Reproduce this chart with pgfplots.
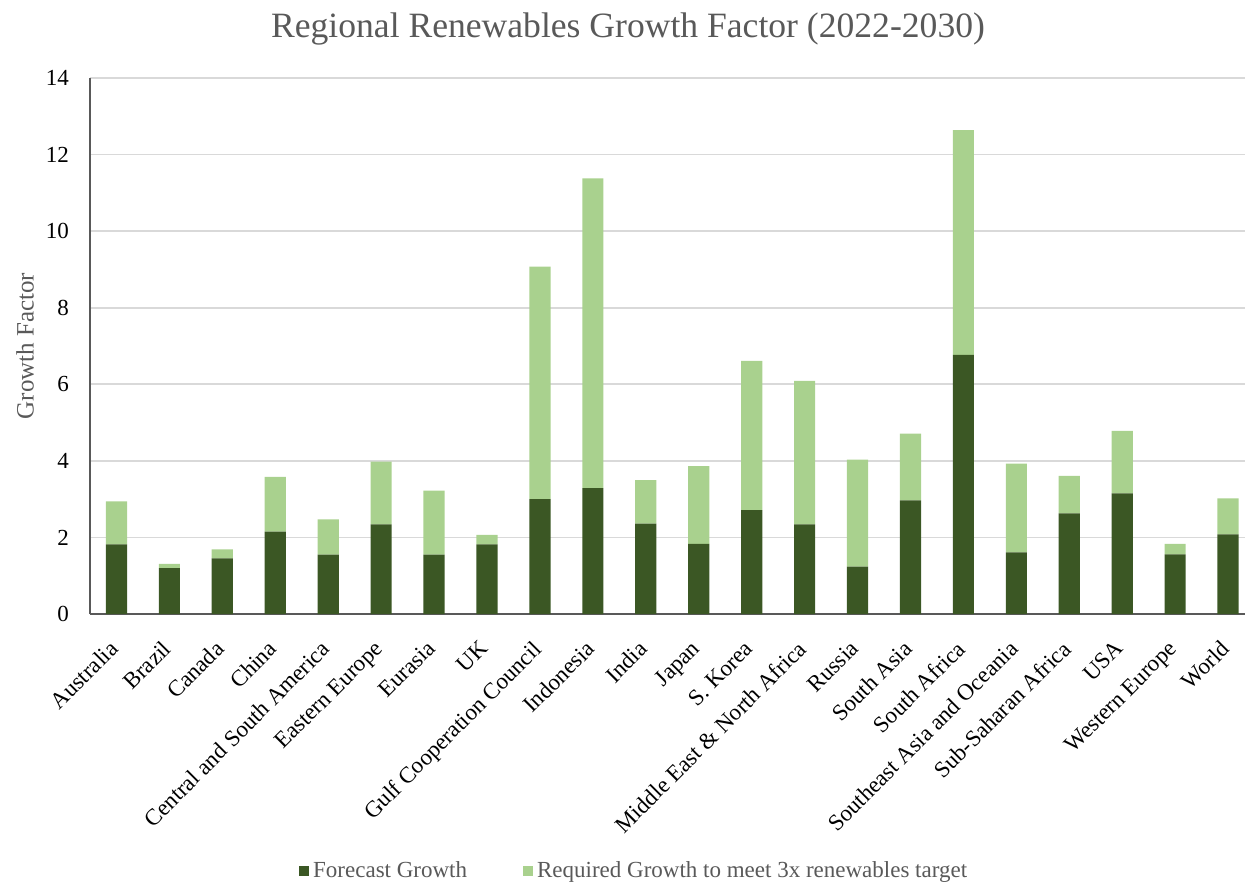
\documentclass[border=0pt]{standalone}
\usepackage{fontspec}
\setmainfont{Liberation Serif}
\usepackage{pgfplots}
\pgfplotsset{compat=1.18}
\definecolor{darkg}{HTML}{3B5724}
\definecolor{lightg}{HTML}{A9D18E}
\definecolor{gridc}{HTML}{D9D9D9}
\definecolor{axc}{HTML}{595959}
\definecolor{txtg}{HTML}{595959}
\begin{document}
\begin{tikzpicture}
\begin{axis}[
  scale only axis, width=577.5pt, height=268pt,
  xmin=-0.5, xmax=21.32, ymin=0, ymax=14,
  ybar stacked, bar width=0.4,
  ytick={0,2,...,14},
  ymajorgrids, grid style={color=gridc, line width=0.9pt},
  axis x line*=bottom, axis y line*=left,
  axis line style={color=axc, line width=0.9pt},
  major tick length=0pt,
  xtick={0,...,21},
  xticklabels={Australia,Brazil,Canada,China,Central and South America,Eastern Europe,Eurasia,UK,Gulf Cooperation Council,Indonesia,India,Japan,S. Korea,Middle East \& North Africa,Russia,South Asia,South Africa,Southeast Asia and Oceania,Sub-Saharan Africa,USA,Western Europe,World},
  xticklabel style={xshift=-4.2pt, yshift=-11pt, rotate=45, anchor=north east, font=\fontsize{11.5}{13}\selectfont, inner sep=1pt},
  yticklabel style={font=\fontsize{11.5}{13}\selectfont, xshift=-7pt},
  /pgf/number format/assume math mode=true,
  ylabel={Growth Factor},
  ylabel style={at={(axis description cs:-0.0563,0.5)}, anchor=center, text=txtg, font=\fontsize{12.5}{14}\selectfont},
  legend columns=2,
  legend style={draw=none, at={(rel axis cs:0.472,-0.479)}, anchor=center, font=\fontsize{11.5}{13}\selectfont, text=txtg, /tikz/every even column/.append style={column sep=26pt}},
  legend image code/.code={\fill[#1] (0pt,-2.5pt) rectangle (5pt,2.5pt);},
]
\addplot[fill=darkg, draw=none] coordinates {
(0,1.82) (1,1.20) (2,1.45) (3,2.15) (4,1.55) (5,2.34) (6,1.55) (7,1.82)
(8,3.00) (9,3.29) (10,2.36) (11,1.83) (12,2.71) (13,2.34) (14,1.24) (15,2.97)
(16,6.77) (17,1.61) (18,2.63) (19,3.15) (20,1.56) (21,2.08)};
\addplot[fill=lightg, draw=none] coordinates {
(0,1.12) (1,0.11) (2,0.24) (3,1.43) (4,0.92) (5,1.64) (6,1.67) (7,0.25)
(8,6.07) (9,8.09) (10,1.14) (11,2.03) (12,3.90) (13,3.75) (14,2.79) (15,1.74)
(16,5.87) (17,2.32) (18,0.98) (19,1.63) (20,0.27) (21,0.94)};
\legend{Forecast Growth, Required Growth to meet 3x renewables target}
\end{axis}
\node[text=txtg, font=\fontsize{17.8}{21}\selectfont] at (269pt,292.5pt) {Regional Renewables Growth Factor (2022-2030)};
\pgfresetboundingbox
\path (-45pt,-134.5pt) rectangle (577.5pt,307pt);
\end{tikzpicture}
\end{document}
